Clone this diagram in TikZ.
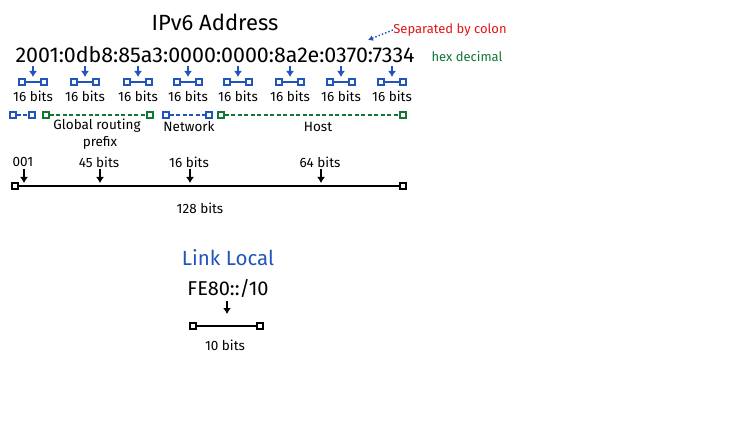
\documentclass[tikz,border=0pt]{standalone}
\usepackage{fontspec}
\setmainfont{Fira Sans}
\usetikzlibrary{positioning,arrows.meta}
\definecolor{segblue}{RGB}{34,85,187}
\definecolor{seggreen}{RGB}{17,119,51}
\definecolor{notered}{RGB}{230,20,20}
\tikzset{
  endsq/.style={draw,rectangle,minimum size=6pt,inner sep=0pt,line width=1.5pt},
  lbl/.style={font=\fontsize{13.5}{14}\selectfont,inner sep=0pt},
  downarr/.style={-{Latex[length=6pt,width=8pt]},line width=1.8pt},
}
\begin{document}
\begin{tikzpicture}[x=1pt,y=-1pt,>=latex,thick]
\useasboundingbox (0,0) rectangle (750,422);
% title and address
\node (title) at (215,22) {\fontsize{22}{24}\selectfont IPv6 Address};
\node (addr) at (215,55) {\fontsize{21.4}{24}\selectfont 2001:0db8:85a3:0000:0000:8a2e:0370:7334};
\node[font=\fontsize{13}{14}\selectfont,text=notered,inner sep=0pt] (sep) at (450,30) {Separated by colon};
\coordinate (septip) at (368,40);
\draw[-{Latex[length=5pt,width=6pt]},segblue,dotted,line width=1.5pt] (sep.west) -- (septip);
\node[font=\fontsize{13}{14}\selectfont,text=seggreen,inner sep=0pt] (hex) at (467,57) {hex decimal};
% 16 bit groups
\foreach \x [count=\i] in {33,85,138,188,238,290,341,392}{
	\coordinate (g\i top) at (\x,66);
	\coordinate (g\i bot) at (\x,77);
	\draw[downarr,segblue] (g\i top) -- (g\i bot);
	\node[endsq,segblue] (g\i l) at (\x-11,82) {};
	\node[endsq,segblue] (g\i r) at (\x+11,82) {};
	\draw[segblue,line width=1.8pt] (g\i l) -- (g\i r);
	\node[lbl] (g\i txt) at (\x,96) {16 bits};
}
% prefix / network / host
\foreach \a/\b/\c [count=\i] in {13/32/segblue,46/150/seggreen,166/209/segblue,221/403/seggreen}{
	\node[endsq,\c] (p\i l) at (\a,115) {};
	\node[endsq,\c] (p\i r) at (\b,115) {};
	\draw[\c,line width=1.3pt,dash pattern=on 4pt off 2.5pt] (p\i l) -- (p\i r);
}
\node[lbl] (glob) at (97,126) {Global routing};
\node[lbl] (pref) at (100,143) {prefix};
\node[lbl] (net) at (189,127) {Network};
\node[lbl] (host) at (318,127) {Host};
% 128 bits
\node[endsq,line width=1.8pt] (all l) at (15,186) {};
\node[endsq,line width=1.8pt] (all r) at (403,186) {};
\draw[line width=2pt] (all l) -- (all r);
\foreach \x/\t [count=\i] in {23/001,99/45 bits,189/16 bits,320/64 bits}{
	\node[lbl] (b\i) at (\x,162) {\t};
	\coordinate (b\i top) at ({\x+1},169);
	\coordinate (b\i bot) at ({\x+1},183);
	\draw[downarr] (b\i top) -- (b\i bot);
}
\node[lbl] (total) at (200,208) {128 bits};
% link local
\node[font=\fontsize{20.5}{22}\selectfont,text=segblue] (ll) at (228,258) {Link Local};
\node[font=\fontsize{20}{22}\selectfont] (fe) at (228,288) {FE80::/10};
\coordinate (fe top) at (227,301);
\coordinate (fe bot) at (227,314);
\draw[downarr] (fe top) -- (fe bot);
\node[endsq,line width=1.8pt] (ll l) at (193,326) {};
\node[endsq,line width=1.8pt] (ll r) at (260,326) {};
\draw[line width=2pt] (ll l) -- (ll r);
\node[lbl] (ten) at (225,345) {10 bits};
\end{tikzpicture}
\end{document}
